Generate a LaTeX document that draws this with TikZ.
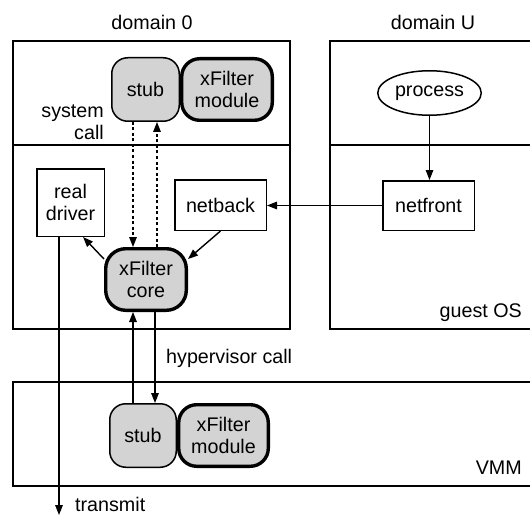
\documentclass[tikz,border=0pt]{standalone}
\usepackage{fontspec}
\setmainfont{Liberation Sans}
\usetikzlibrary{shapes.geometric,arrows.meta}
\definecolor{boxgray}{RGB}{211,211,211}
\begin{document}
\begin{tikzpicture}[x=1pt,y=-1pt,
  every node/.style={font=\fontsize{19.7}{22.5}\selectfont, inner sep=0pt},
  frame/.style={line width=1.5pt},
  plainbox/.style={draw, line width=1.5pt, fill=white, align=center},
  stubbox/.style={draw, line width=1.5pt, fill=boxgray, rounded corners=16pt, align=center},
  modbox/.style={draw, line width=3.4pt, fill=boxgray, rounded corners=18pt, align=center},
  arr/.style={line width=1.4pt, -{Triangle[length=10pt,width=7.5pt]}},
  dotarr/.style={arr, dash pattern=on 3pt off 2.5pt},
]
\useasboundingbox (0,0) rectangle (530,516);

% domain 0
\draw[frame] (13,41) rectangle (290,329);
\draw[frame] (13,145) -- (290,145);
% domain U (open on the right)
\draw[frame] (530,41) -- (330,41) -- (330,329) -- (530,329);
\draw[frame] (330,145) -- (530,145);
% VMM layer
\draw[frame] (530,382) -- (13,382) -- (13,486) -- (530,486);

% titles and layer labels
\node[anchor=base] (d0) at (152,30) {domain 0};
\node[anchor=base] (dU) at (433,30) {domain U};
\node[anchor=east, align=right] (syscall) at (104,122) {system\\call};
\node[anchor=base west] (hcall) at (166,363) {hypervisor call};
\node[anchor=base west] (txlabel) at (75,511) {transmit};
\node[anchor=base east] (gos) at (522,317) {guest OS};
\node[anchor=base east] (vmm) at (522,474) {VMM};

% domain 0, user level
\node[stubbox, minimum width=67.5pt, minimum height=63.5pt] (stubA) at (145.5,89.5) {stub};
\node[modbox, minimum width=90.6pt, minimum height=61.6pt] (modA) at (227,89.5) {xFilter\\module};

% domain 0, kernel
\node[plainbox, minimum width=67.5pt, minimum height=67.5pt] (driver) at (70.5,202.5) {real\\driver};
\node[plainbox, minimum width=91.5pt, minimum height=50.5pt] (netback) at (220.5,205) {netback};
\node[modbox, rounded corners=20pt, minimum width=80.6pt, minimum height=61.6pt] (core) at (146,279.5) {xFilter\\core};

% domain U
\node[draw, ellipse, line width=1.5pt, minimum width=103.5pt, minimum height=44.5pt] (process) at (429.5,93) {process};
\node[plainbox, minimum width=91.5pt, minimum height=49.5pt] (netfront) at (428.5,205.5) {netfront};

% VMM
\node[stubbox, minimum width=66.5pt, minimum height=63.5pt] (stubB) at (143,435.5) {stub};
\node[modbox, minimum width=89.6pt, minimum height=61.6pt] (modB) at (223.5,435.5) {xFilter\\module};

% connectors
\coordinate (xl) at (133,0);
\coordinate (xr) at (157,0);
\coordinate (xd) at (155,0);
\coordinate (txend) at (59,515);

\draw[dotarr] (xl |- stubA.south) -- (xl |- core.north);
\draw[dotarr] (xr |- core.north) -- (xr |- stubA.south);
\draw[arr] (xl |- stubB.north) -- (xl |- core.south);
\draw[arr] (xd |- core.south) -- (xd |- stubB.north);
\draw[arr] (core.154) -- (driver.-70);
\draw[arr] (netback.south) -- (core.26);
\draw[arr] (netfront.west) -- (netfront.west -| netback.east);
\draw[arr] (process.south) -- (process.south |- netfront.north);
\draw[arr] (driver.south -| txend) -- (txend);
\end{tikzpicture}
\end{document}
